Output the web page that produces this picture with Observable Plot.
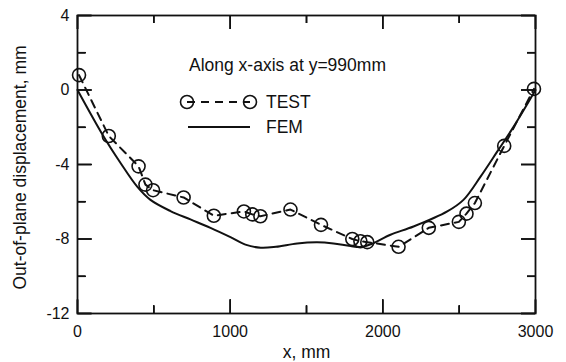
<!DOCTYPE html>
<html><head><meta charset="utf-8">
<script src="https://cdn.jsdelivr.net/npm/d3@7"></script>
<script src="https://cdn.jsdelivr.net/npm/@observablehq/plot@0.6"></script>
<style>
body{margin:0;background:#fff;}
#wrap{width:566px;height:362px;font-family:"Liberation Sans",Arial,sans-serif;}
</style></head><body><div id="wrap"></div>
<script>
// TEST measurements
const testX = [10, 205, 400, 445, 495, 695, 893, 1090, 1145, 1198, 1395, 1595, 1800, 1853, 1898, 2103, 2301, 2498, 2548, 2603, 2795, 2990];
const testY = [0.8, -2.47, -4.1, -5.08, -5.38, -5.77, -6.75, -6.52, -6.68, -6.78, -6.42, -7.24, -8.0, -8.12, -8.17, -8.42, -7.4, -7.08, -6.64, -6.07, -3.0, 0.06];
// FEM curve
const femX = [0, 172, 282, 391, 478, 609, 740, 871, 1002, 1100, 1200, 1300, 1439, 1570, 1677, 1788, 1860, 1930, 2050, 2201, 2422, 2528, 2640, 2749, 2856, 3000];
const femY = [0, -2.51, -3.92, -5.19, -5.9, -6.5, -6.95, -7.4, -7.9, -8.3, -8.47, -8.42, -8.24, -8.18, -8.24, -8.38, -8.42, -8.25, -7.77, -7.33, -6.52, -5.9, -4.65, -3.31, -1.98, 0];
const majorXTicks = [0, 1000, 2000, 3000];
const minorXTicks = [500, 1500, 2500];
const majorYTicks = [4, 0, -4, -8, -12];
const minorYTicks = [2, -2, -6, -10];
const xLabel = "x, mm";
const yLabel = "Out-of-plane displacement, mm";
const annotation = "Along x-axis at y=990mm";
const seriesNames = ["TEST", "FEM"];

const test = testX.map((x, i) => ({x, y: testY[i]}));
const fem = femX.map((x, i) => ({x, y: femY[i]}));
const ink = "#111";
const W = 566, H = 362, mL = 77, mR = 31, mT = 15, mB = 49;
const fw = W - mL - mR, fh = H - mT - mB;
const bigLen = 14, smallLen = 8;
const tickStyle = {stroke: ink, strokeWidth: 1.6};
const noText = () => "";

// inward ticks: an axis on the opposite side shifted across the frame
const inwardTicks = [
  Plot.axisX(majorXTicks, {anchor: "top", dy: fh, tickSize: bigLen, tickFormat: noText, label: null, ...tickStyle}),
  Plot.axisX(minorXTicks, {anchor: "top", dy: fh, tickSize: smallLen, tickFormat: noText, label: null, ...tickStyle}),
  Plot.axisX(majorXTicks, {anchor: "bottom", dy: -fh, tickSize: bigLen, tickFormat: noText, label: null, ...tickStyle}),
  Plot.axisX(minorXTicks, {anchor: "bottom", dy: -fh, tickSize: smallLen, tickFormat: noText, label: null, ...tickStyle}),
  Plot.axisY(majorYTicks, {anchor: "right", dx: -fw, tickSize: bigLen, tickFormat: noText, label: null, ...tickStyle}),
  Plot.axisY(minorYTicks, {anchor: "right", dx: -fw, tickSize: smallLen, tickFormat: noText, label: null, ...tickStyle}),
  Plot.axisY(majorYTicks, {anchor: "left", dx: fw, tickSize: bigLen, tickFormat: noText, label: null, ...tickStyle}),
  Plot.axisY(minorYTicks, {anchor: "left", dx: fw, tickSize: smallLen, tickFormat: noText, label: null, ...tickStyle}),
  Plot.tickX(majorXTicks, {x: d => d, insetTop: fh - bigLen, ...tickStyle}),
  Plot.tickX(minorXTicks, {x: d => d, insetTop: fh - smallLen, ...tickStyle}),
  Plot.tickX(majorXTicks, {x: d => d, insetBottom: fh - bigLen, ...tickStyle}),
  Plot.tickX(minorXTicks, {x: d => d, insetBottom: fh - smallLen, ...tickStyle}),
  Plot.tickY(majorYTicks, {y: d => d, insetRight: fw - bigLen, ...tickStyle}),
  Plot.tickY(minorYTicks, {y: d => d, insetRight: fw - smallLen, ...tickStyle}),
  Plot.tickY(majorYTicks, {y: d => d, insetLeft: fw - bigLen, ...tickStyle}),
  Plot.tickY(minorYTicks, {y: d => d, insetLeft: fw - smallLen, ...tickStyle})
];

const chart = Plot.plot({
  width: W, height: H,
  marginLeft: mL, marginRight: mR, marginTop: mT, marginBottom: mB,
  style: {fontFamily: '"Liberation Sans", Arial, sans-serif', fontSize: "16px", color: ink, background: "#fff"},
  x: {domain: [0, 3000]},
  y: {domain: [-12, 4]},
  marks: [
    Plot.axisX(majorXTicks, {anchor: "bottom", tickSize: 0, tickPadding: 12, fill: ink, fontSize: 16, tickFormat: d => String(d), label: null}),
    Plot.axisY(majorYTicks, {anchor: "left", tickSize: 0, tickPadding: 8, fill: ink, fontSize: 16, tickFormat: d => String(d), label: null}),
    Plot.text([xLabel], {frameAnchor: "bottom", dy: 44, fontSize: 17.5, fill: ink, lineAnchor: "bottom"}),
    Plot.text([yLabel], {frameAnchor: "left", dx: -57, dy: 3, rotate: -90, textAnchor: "middle", fontSize: 17.5, fill: ink}),
    Plot.line(fem, {x: "x", y: "y", stroke: ink, strokeWidth: 2, curve: "catmull-rom"}),
    Plot.line(test, {x: "x", y: "y", stroke: ink, strokeWidth: 2, strokeDasharray: "8,6"}),
    Plot.dot(test, {x: "x", y: "y", r: 6.5, stroke: ink, strokeWidth: 1.6, fill: "none"}),
    ...inwardTicks,
    Plot.frame({stroke: ink, strokeWidth: 1.8})
  ]
});
const wrap = document.getElementById("wrap");
wrap.appendChild(chart);

// annotation + legend drawn inside the same SVG
const g = d3.select(chart).append("g")
  .attr("font-family", '"Liberation Sans", Arial, sans-serif').attr("font-size", 17.5)
  .attr("text-anchor", "start");
g.append("text").attr("x", 189).attr("y", 71).attr("fill", ink).text(annotation);
// TEST
g.append("line").attr("x1", 187).attr("x2", 250).attr("y1", 102).attr("y2", 102)
  .attr("stroke", ink).attr("stroke-width", 2).attr("stroke-dasharray", "8,6");
[187, 250].forEach(cx => g.append("circle").attr("cx", cx).attr("cy", 102).attr("r", 6.5)
  .attr("fill", "none").attr("stroke", ink).attr("stroke-width", 1.6));
g.append("text").attr("x", 266).attr("y", 108).attr("fill", ink).text(seriesNames[0]);
// FEM
g.append("line").attr("x1", 188).attr("x2", 250).attr("y1", 127).attr("y2", 127)
  .attr("stroke", ink).attr("stroke-width", 2);
g.append("text").attr("x", 266).attr("y", 133).attr("fill", ink).text(seriesNames[1]);
</script>
</body></html>
